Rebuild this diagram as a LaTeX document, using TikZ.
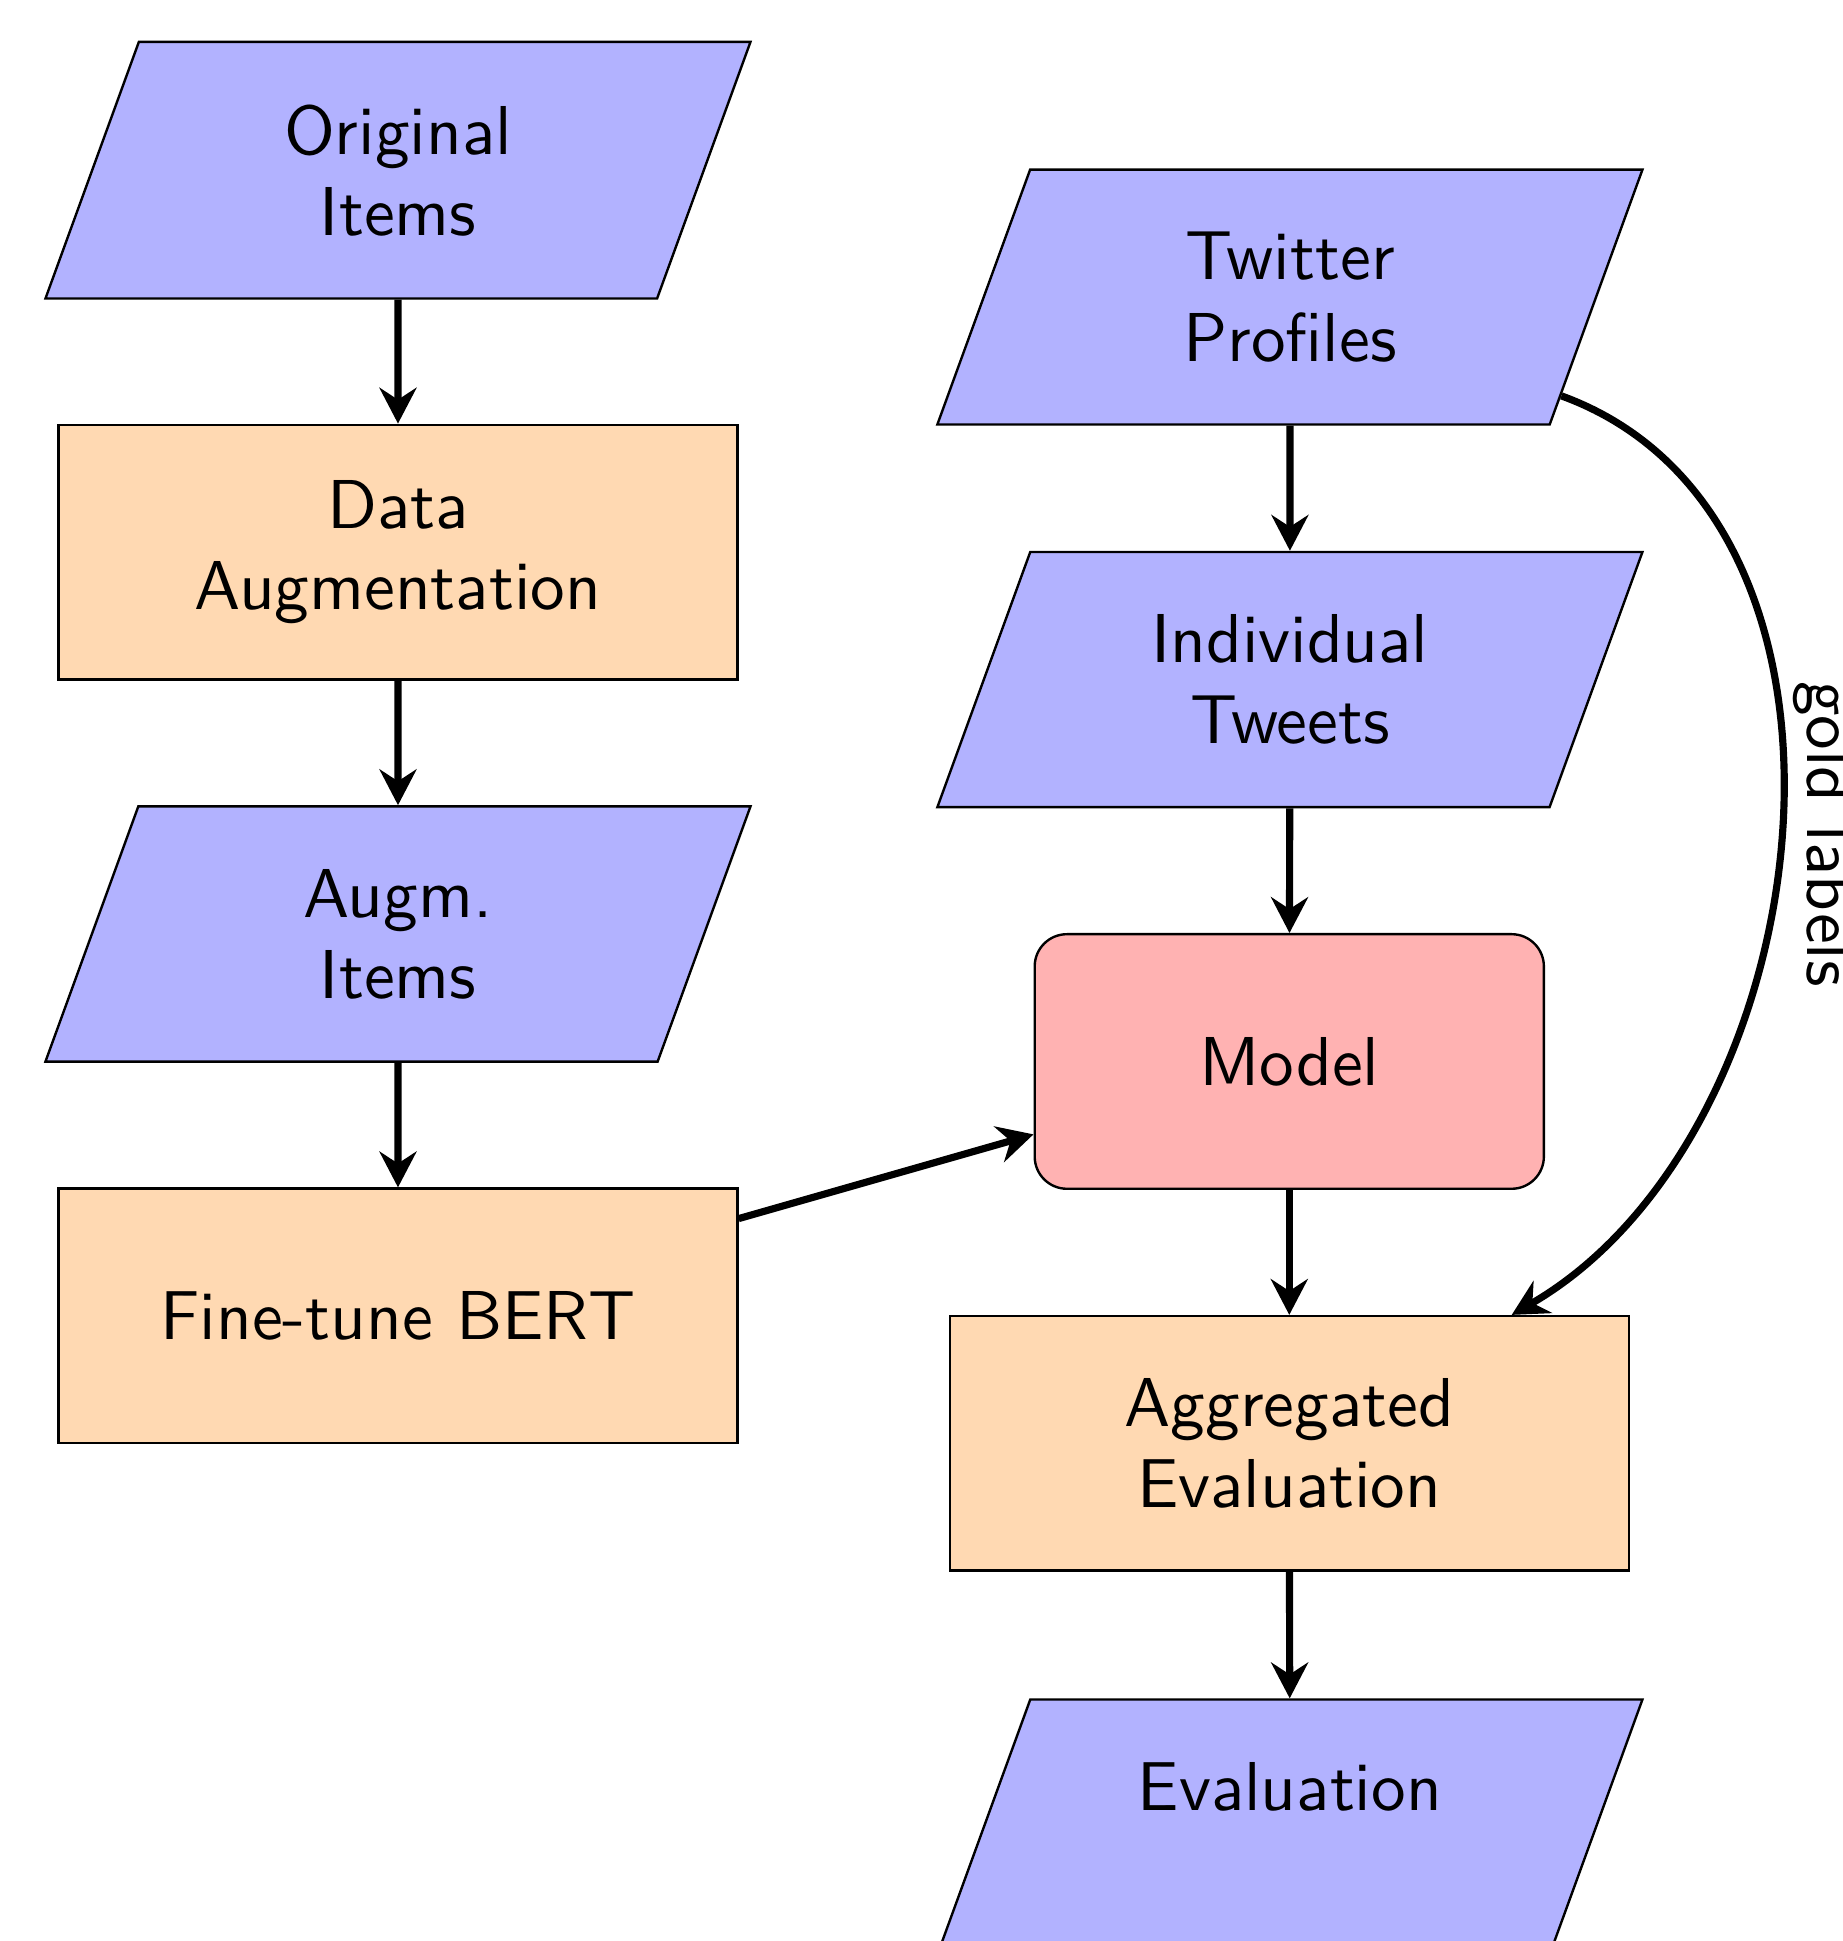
\documentclass[tikz,border=0pt]{standalone}
\usepackage{fontspec}
\newfontfamily\lmsten{lmsans10-regular.otf}
\usetikzlibrary{shapes.geometric,arrows.meta}
\begin{document}
\begin{tikzpicture}[x=0.0072886cm,y=-0.0072886cm,
  font=\lmsten\fontsize{11.6}{13.6}\selectfont,
  iobox/.style={trapezium, trapezium left angle=70, trapezium right angle=110,
    trapezium stretches body=true, inner ysep=10.5pt,
    minimum width=4.154cm, minimum height=1.5cm,
    align=center, draw=black, fill=blue!30},
  procbox/.style={rectangle, minimum width=4cm, minimum height=1.5cm,
    align=center, draw=black, fill=orange!30},
  modelbox/.style={rectangle, rounded corners=0.19cm, minimum width=3cm,
    minimum height=1.5cm, align=center, draw=black, fill=red!30},
  flow/.style={line width=1.2pt,-{Stealth[length=6pt,width=6.2pt,inset=2pt]}}]
\useasboundingbox (0,0) rectangle (1488,1568);
\clip (0,0) rectangle (1488,1568);

\node[iobox]   (orig)     at (321.5,137.5) {Original\\Items};
\node[procbox] (dataaug)  at (321.5,446)   {Data\\Augmentation};
\node[iobox]   (augm)     at (321.5,754.5) {Augm.\\Items};
\node[procbox] (finetune) at (321.5,1063)  {Fine-tune BERT};

\node[iobox]    (twitter) at (1042,240)    {Twitter\\Profiles};
\node[iobox]    (tweets)  at (1042,549)    {Individual\\Tweets};
\node[modelbox] (model)   at (1041.5,857.5) {Model};
\node[procbox]  (agg)     at (1041.5,1166) {Aggregated\\Evaluation};
\node[iobox]    (eval)    at (1042,1476)   {Evaluation\\\phantom{Evaluation}};

\draw[flow] (orig) -- (dataaug);
\draw[flow] (dataaug) -- (augm);
\draw[flow] (augm) -- (finetune);
\draw[flow] (finetune) -- (model);
\draw[flow] (twitter) -- (tweets);
\draw[flow] (tweets) -- (model);
\draw[flow] (model) -- (agg);
\draw[flow] (agg) -- (eval);
\draw[flow] (twitter) to[out=-20,in=30]
  node[midway,rotate=-90,anchor=south,inner sep=1.5pt] {gold labels} (agg);
\end{tikzpicture}
\end{document}
